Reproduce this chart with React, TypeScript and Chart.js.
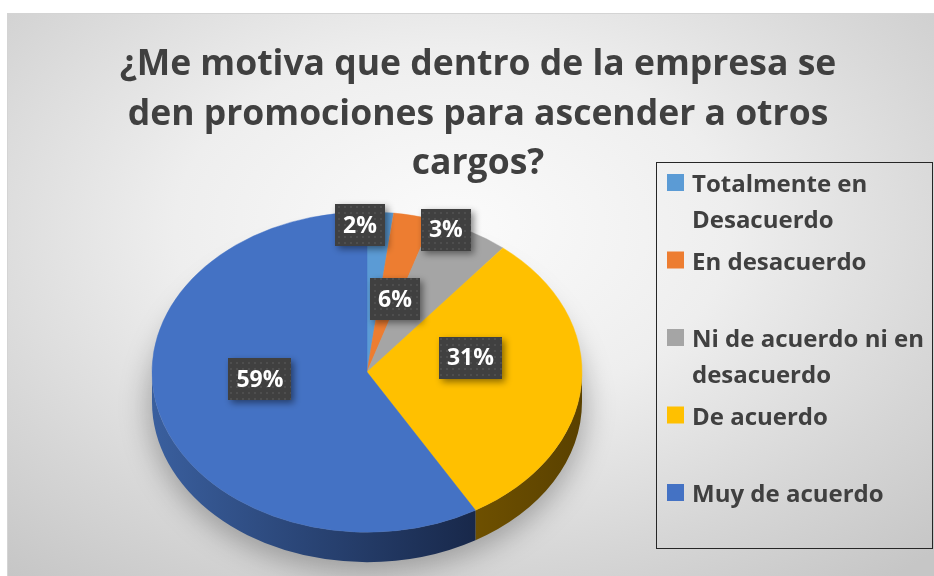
import React, { useEffect, useRef } from "react";
import { Chart, registerables } from "chart.js";

Chart.register(...registerables);

// ---- data ----
const categories = [
  "Totalmente en Desacuerdo",
  "En desacuerdo",
  "Ni de acuerdo ni en desacuerdo",
  "De acuerdo",
  "Muy de acuerdo",
];
const values = [2, 3, 6, 31, 59];
const percentLabels = ["2%", "3%", "6%", "31%", "59%"];
const titleLines = [
  "¿Me motiva que dentro de la empresa se",
  "den promociones para ascender a otros",
  "cargos?",
];

// ---- styles ----
const sliceColors = ["#5B9BD5", "#ED7D31", "#A5A5A5", "#FFC000", "#4472C4"];
const sideColors = [
  ["#3d6fa0", "#2b5a86"],
  ["#a85520", "#8a4418"],
  ["#777777", "#666666"],
  ["#6e5000", "#5a4100"],
  ["#3a5f9e", "#18284a"],
];
const labelRadius = [0.917, 0.96, 0.474, 0.489, 0.5];
const labelAngleNudge = [-5.6, 10.0, -12.6, -14.8, 10.1];

const PIE = { cx: 367, cy: 372, r: 215, sy: 0.745, depth: 30 };
const FONT = "'Open Sans'";

function makePattern(ctx: CanvasRenderingContext2D) {
  const c = document.createElement("canvas");
  c.width = 6;
  c.height = 6;
  const p = c.getContext("2d")!;
  p.fillStyle = "#404040";
  p.fillRect(0, 0, 6, 6);
  p.fillStyle = "#4e4e4e";
  p.fillRect(2, 2, 2, 2);
  return ctx.createPattern(c, "repeat")!;
}

const pie3d = {
  id: "pie3d",
  beforeDatasetsDraw(chart: any) {
    const ctx: CanvasRenderingContext2D = chart.ctx;
    const meta = chart.getDatasetMeta(0);
    const { cx, cy, r, sy, depth } = PIE;
    // soft shadow
    ctx.save();
    ctx.filter = "blur(14px)";
    ctx.fillStyle = "rgba(0,0,0,0.28)";
    ctx.beginPath();
    ctx.ellipse(cx, cy + depth + 4, r + 4, r * sy + 6, 0, 0, Math.PI * 2);
    ctx.fill();
    ctx.restore();
    // sides
    meta.data.forEach((arc: any, i: number) => {
      const s = Math.max(arc.startAngle, 0);
      const e = Math.min(arc.endAngle, Math.PI);
      if (e <= s) return;
      const x0 = cx + r * Math.cos(e);
      const x1 = cx + r * Math.cos(s);
      const g = ctx.createLinearGradient(Math.min(x0, x1), 0, Math.max(x0, x1), 0);
      g.addColorStop(0, sideColors[i][0]);
      g.addColorStop(1, sideColors[i][1]);
      ctx.save();
      ctx.fillStyle = g;
      ctx.beginPath();
      ctx.ellipse(cx, cy, r, r * sy, 0, s, e, false);
      ctx.lineTo(cx + r * Math.cos(e), cy + r * sy * Math.sin(e) + depth);
      ctx.ellipse(cx, cy + depth, r, r * sy, 0, e, s, true);
      ctx.closePath();
      ctx.fill();
      ctx.restore();
    });
    // squash top face
    const a = meta.data[0];
    ctx.save();
    ctx.translate(cx, cy);
    ctx.scale(1, sy);
    ctx.translate(-a.x, -a.y);
  },
  afterDatasetsDraw(chart: any) {
    const ctx: CanvasRenderingContext2D = chart.ctx;
    ctx.restore();
    const meta = chart.getDatasetMeta(0);
    const { cx, cy, r, sy } = PIE;
    const pattern = makePattern(ctx);
    ctx.save();
    ctx.font = `bold 23px ${FONT}`;
    meta.data.forEach((arc: any, i: number) => {
      const mid = (arc.startAngle + arc.endAngle) / 2 + (labelAngleNudge[i] * Math.PI) / 180;
      const x = cx + r * labelRadius[i] * Math.cos(mid);
      const y = cy + r * sy * labelRadius[i] * Math.sin(mid);
      const txt = percentLabels[i];
      const w = ctx.measureText(txt).width + 16;
      const h = 42;
      ctx.save();
      ctx.shadowColor = "rgba(0,0,0,0.45)";
      ctx.shadowBlur = 7;
      ctx.shadowOffsetX = 3;
      ctx.shadowOffsetY = 3;
      ctx.fillStyle = pattern;
      ctx.fillRect(Math.round(x - w / 2), Math.round(y - h / 2), Math.round(w), h);
      ctx.restore();
      ctx.fillStyle = "#ffffff";
      ctx.textAlign = "center";
      ctx.textBaseline = "middle";
      ctx.fillText(txt, x, y + 1);
    });
    ctx.restore();
  },
};

const legendBox = {
  id: "legendBox",
  afterDraw(chart: any) {
    const ctx: CanvasRenderingContext2D = chart.ctx;
    ctx.save();
    ctx.strokeStyle = "#262626";
    ctx.lineWidth = 1;
    ctx.strokeRect(656.5, 162.5, 276, 386);
    ctx.font = `bold 24px ${FONT}`;
    ctx.textBaseline = "alphabetic";
    ctx.textAlign = "left";
    categories.forEach((cat, i) => {
      const base = 192 + i * 77.5;
      ctx.fillStyle = sliceColors[i];
      ctx.fillRect(667, base - 18, 17, 17);
      // wrap
      const words = cat.split(" ");
      const lines: string[] = [];
      let cur = "";
      words.forEach((w) => {
        const t = cur ? cur + " " + w : w;
        if (ctx.measureText(t).width > 255 && cur) {
          lines.push(cur);
          cur = w;
        } else cur = t;
      });
      if (cur) lines.push(cur);
      ctx.fillStyle = "#404040";
      lines.forEach((ln, j) => ctx.fillText(ln, 692, base + j * 36));
    });
    ctx.restore();
  },
};

export default function App() {
  const ref = useRef<HTMLCanvasElement>(null);
  useEffect(() => {
    const chart = new Chart(ref.current!, {
      type: "pie",
      data: {
        labels: categories,
        datasets: [
          {
            data: values,
            backgroundColor: sliceColors,
            borderColor: sliceColors,
            borderWidth: 0.5,
            radius: PIE.r,
            clip: false as any,
          },
        ],
      },
      options: {
        responsive: false,
        animation: false,
        layout: { padding: { left: 22, right: 0, top: 0, bottom: 0 } },
        plugins: {
          legend: { display: false },
          tooltip: { enabled: false },
          title: {
            display: true,
            text: titleLines,
            color: "#404040",
            font: { family: FONT, size: 35.5, weight: "bold", lineHeight: 1.4 },
            padding: { top: 40, bottom: 10 },
          },
        },
      },
      plugins: [pie3d, legendBox],
    });
    return () => chart.destroy();
  }, []);
  return (
    <div style={{ position: "fixed", left: 0, top: 0, width: 934, height: 576, background: "#ffffff", overflow: "hidden" }}>
      <div
        style={{
          position: "absolute",
          left: 7,
          top: 13,
          width: 927,
          height: 563,
          background:
            "radial-gradient(ellipse 75% 80% at 48% 38%, #fbfbfb 0%, #eeeeee 40%, #d6d6d6 75%, #c6c6c6 100%)",
          borderTop: "1px solid #d4d4d4",
          borderLeft: "1px solid #d4d4d4",
        }}
      />
      <canvas ref={ref} width={934} height={576} style={{ position: "absolute", left: 0, top: 0 }} />
    </div>
  );
}
